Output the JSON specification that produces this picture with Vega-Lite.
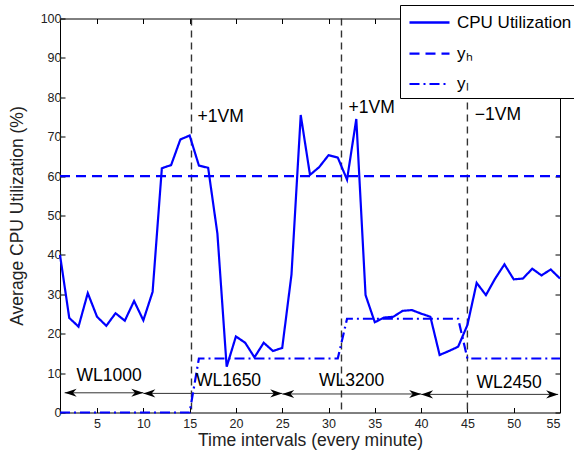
{
  "$schema": "https://vega.github.io/schema/vega-lite/v6.json",
  "width": 500,
  "height": 394,
  "autosize": "none",
  "padding": {"left": 60, "top": 18.5, "right": 14, "bottom": 41.5},
  "background": "white",
  "config": {
    "font": "Liberation Sans",
    "view": {"stroke": "black", "strokeWidth": 1},
    "axis": {
      "grid": false,
      "domain": false,
      "tickColor": "black",
      "tickSize": -5,
      "labelFont": "Liberation Sans",
      "labelFontSize": 12.5,
      "labelColor": "#222",
      "titleFont": "Liberation Sans",
      "titleFontSize": 17.5,
      "titleFontWeight": "normal",
      "titleColor": "#222"
    },
    "legend": {
      "orient": "none",
      "legendX": 340,
      "legendY": -13.5,
      "padding": 6,
      "strokeColor": "black",
      "fillColor": "white",
      "cornerRadius": 0,
      "symbolType": "M-0.8,0H3.2",
      "symbolSize": 400,
      "symbolStrokeWidth": 2,
      "symbolStrokeColor": "#0000ff",
      "labelFont": "Liberation Sans",
      "labelFontSize": 17,
      "labelColor": "black",
      "labelOffset": 28,
      "rowPadding": 11,
      "labelLimit": 300
    }
  },
  "datasets": {
    "series": [
      {"x": 1, "y": 40, "s": "CPU Utilization"},
      {"x": 2, "y": 24, "s": "CPU Utilization"},
      {"x": 3, "y": 21.8, "s": "CPU Utilization"},
      {"x": 4, "y": 30.3, "s": "CPU Utilization"},
      {"x": 5, "y": 24.3, "s": "CPU Utilization"},
      {"x": 6, "y": 22, "s": "CPU Utilization"},
      {"x": 7, "y": 25.2, "s": "CPU Utilization"},
      {"x": 8, "y": 23.3, "s": "CPU Utilization"},
      {"x": 9, "y": 28.3, "s": "CPU Utilization"},
      {"x": 10, "y": 23.4, "s": "CPU Utilization"},
      {"x": 11, "y": 30.6, "s": "CPU Utilization"},
      {"x": 12, "y": 62, "s": "CPU Utilization"},
      {"x": 13, "y": 62.8, "s": "CPU Utilization"},
      {"x": 14, "y": 69.3, "s": "CPU Utilization"},
      {"x": 15, "y": 70.3, "s": "CPU Utilization"},
      {"x": 16, "y": 62.7, "s": "CPU Utilization"},
      {"x": 17, "y": 62.1, "s": "CPU Utilization"},
      {"x": 18, "y": 45.4, "s": "CPU Utilization"},
      {"x": 19, "y": 11.6, "s": "CPU Utilization"},
      {"x": 20, "y": 19.3, "s": "CPU Utilization"},
      {"x": 21, "y": 17.7, "s": "CPU Utilization"},
      {"x": 22, "y": 14, "s": "CPU Utilization"},
      {"x": 23, "y": 17.7, "s": "CPU Utilization"},
      {"x": 24, "y": 15.6, "s": "CPU Utilization"},
      {"x": 25, "y": 16.4, "s": "CPU Utilization"},
      {"x": 26, "y": 35, "s": "CPU Utilization"},
      {"x": 27, "y": 75.5, "s": "CPU Utilization"},
      {"x": 28, "y": 60.3, "s": "CPU Utilization"},
      {"x": 29, "y": 62.3, "s": "CPU Utilization"},
      {"x": 30, "y": 65.3, "s": "CPU Utilization"},
      {"x": 31, "y": 64.7, "s": "CPU Utilization"},
      {"x": 32, "y": 59.1, "s": "CPU Utilization"},
      {"x": 33, "y": 74.5, "s": "CPU Utilization"},
      {"x": 34, "y": 29.8, "s": "CPU Utilization"},
      {"x": 35, "y": 22.9, "s": "CPU Utilization"},
      {"x": 36, "y": 24.1, "s": "CPU Utilization"},
      {"x": 37, "y": 24.3, "s": "CPU Utilization"},
      {"x": 38, "y": 25.8, "s": "CPU Utilization"},
      {"x": 39, "y": 26, "s": "CPU Utilization"},
      {"x": 40, "y": 25.1, "s": "CPU Utilization"},
      {"x": 41, "y": 24.3, "s": "CPU Utilization"},
      {"x": 42, "y": 14.6, "s": "CPU Utilization"},
      {"x": 43, "y": 15.6, "s": "CPU Utilization"},
      {"x": 44, "y": 16.7, "s": "CPU Utilization"},
      {"x": 45, "y": 22.2, "s": "CPU Utilization"},
      {"x": 46, "y": 32.9, "s": "CPU Utilization"},
      {"x": 47, "y": 29.8, "s": "CPU Utilization"},
      {"x": 48, "y": 34, "s": "CPU Utilization"},
      {"x": 49, "y": 37.6, "s": "CPU Utilization"},
      {"x": 50, "y": 33.8, "s": "CPU Utilization"},
      {"x": 51, "y": 34, "s": "CPU Utilization"},
      {"x": 52, "y": 36.5, "s": "CPU Utilization"},
      {"x": 53, "y": 34.8, "s": "CPU Utilization"},
      {"x": 54, "y": 36.3, "s": "CPU Utilization"},
      {"x": 55, "y": 34, "s": "CPU Utilization"},
      {"x": 1, "y": 60, "s": "yₕ"},
      {"x": 55, "y": 60, "s": "yₕ"},
      {"x": 1, "y": 0, "s": "yₗ"},
      {"x": 15, "y": 0, "s": "yₗ"},
      {"x": 16, "y": 13.7, "s": "yₗ"},
      {"x": 31, "y": 13.7, "s": "yₗ"},
      {"x": 32, "y": 23.8, "s": "yₗ"},
      {"x": 44, "y": 23.8, "s": "yₗ"},
      {"x": 45, "y": 13.7, "s": "yₗ"},
      {"x": 55, "y": 13.7, "s": "yₗ"}
    ],
    "vlines": [{"x": 15.2}, {"x": 31.4}, {"x": 45.0}],
    "labels": [
      {"x": 18.35, "y": 74.9, "t": "+1VM"},
      {"x": 34.66, "y": 77.2, "t": "+1VM"},
      {"x": 48.3, "y": 75.6, "t": "−1VM"},
      {"x": 6.3, "y": 9.3, "t": "WL1000"},
      {"x": 19.2, "y": 8.1, "t": "WL1650"},
      {"x": 32.5, "y": 8.1, "t": "WL3200"},
      {"x": 49.5, "y": 7.6, "t": "WL2450"}
    ],
    "arrows": [
      {"x": 1.5, "x2": 10, "y": 5.0},
      {"x": 10, "x2": 25, "y": 4.85},
      {"x": 25, "x2": 40, "y": 4.7},
      {"x": 40, "x2": 54.8, "y": 4.6}
    ]
  },
  "resolve": {"axis": {"x": "independent", "y": "independent"}},
  "layer": [
    {
      "data": {"name": "vlines"},
      "mark": {"type": "rule", "color": "#333", "strokeWidth": 1.4, "strokeDash": [7, 5]},
      "encoding": {
        "x": {"field": "x", "type": "quantitative", "scale": {"domain": [1, 55], "nice": false, "zero": false}, "axis": null}
      }
    },
    {
      "data": {"name": "arrows"},
      "mark": {"type": "rule", "color": "#333", "strokeWidth": 1},
      "encoding": {
        "x": {"field": "x", "type": "quantitative", "scale": {"domain": [1, 55], "nice": false, "zero": false}, "axis": null},
        "x2": {"field": "x2"},
        "y": {"field": "y", "type": "quantitative", "scale": {"domain": [0, 100], "nice": false}, "axis": null}
      }
    },
    {
      "data": {"name": "arrows"},
      "mark": {"type": "point", "shape": "M0,0L2,-0.67L1.4,0L2,0.67Z", "filled": true, "color": "black", "size": 144, "opacity": 1},
      "encoding": {
        "x": {"field": "x", "type": "quantitative", "scale": {"domain": [1, 55], "nice": false, "zero": false}, "axis": null},
        "y": {"field": "y", "type": "quantitative", "scale": {"domain": [0, 100], "nice": false}, "axis": null}
      }
    },
    {
      "data": {"name": "arrows"},
      "mark": {"type": "point", "shape": "M0,0L-2,-0.67L-1.4,0L-2,0.67Z", "filled": true, "color": "black", "size": 144, "opacity": 1},
      "encoding": {
        "x": {"field": "x2", "type": "quantitative", "scale": {"domain": [1, 55], "nice": false, "zero": false}, "axis": null},
        "y": {"field": "y", "type": "quantitative", "scale": {"domain": [0, 100], "nice": false}, "axis": null}
      }
    },
    {
      "data": {"name": "series"},
      "mark": {"type": "line", "color": "#0000ff", "strokeWidth": 2.2},
      "encoding": {
        "x": {
          "field": "x", "type": "quantitative",
          "scale": {"domain": [1, 55], "nice": false, "zero": false},
          "axis": {"orient": "bottom", "values": [5, 10, 15, 20, 25, 30, 35, 40, 45, 50, 55], "labelPadding": 10, "title": "Time intervals (every minute)", "titlePadding": 1}
        },
        "y": {
          "field": "y", "type": "quantitative",
          "scale": {"domain": [0, 100], "nice": false},
          "axis": {"orient": "left", "values": [0, 10, 20, 30, 40, 50, 60, 70, 80, 90, 100], "labelPadding": 4, "title": "Average CPU Utilization (%)", "titlePadding": 14}
        },
        "strokeDash": {
          "field": "s", "type": "nominal",
          "scale": {"domain": ["CPU Utilization", "yₕ", "yₗ"], "range": [[1, 0], [10, 6], [10, 4, 2, 4]]},
          "legend": {"title": null}
        },
        "strokeWidth": {
          "field": "s", "type": "nominal",
          "scale": {"domain": ["CPU Utilization", "yₕ", "yₗ"], "range": [2.5, 2, 2]},
          "legend": null
        }
      }
    },
    {
      "data": {"name": "labels"},
      "mark": {"type": "text", "font": "Liberation Sans", "fontSize": 17.5, "color": "black", "align": "center", "baseline": "middle"},
      "encoding": {
        "x": {
          "field": "x", "type": "quantitative",
          "scale": {"domain": [1, 55], "nice": false, "zero": false},
          "axis": {"orient": "top", "values": [5, 10, 15, 20, 25, 30, 35, 40, 45, 50, 55], "labels": false, "title": null}
        },
        "y": {
          "field": "y", "type": "quantitative",
          "scale": {"domain": [0, 100], "nice": false},
          "axis": {"orient": "right", "values": [0, 10, 20, 30, 40, 50, 60, 70, 80, 90, 100], "labels": false, "title": null}
        },
        "text": {"field": "t", "type": "nominal"}
      }
    }
  ]
}
